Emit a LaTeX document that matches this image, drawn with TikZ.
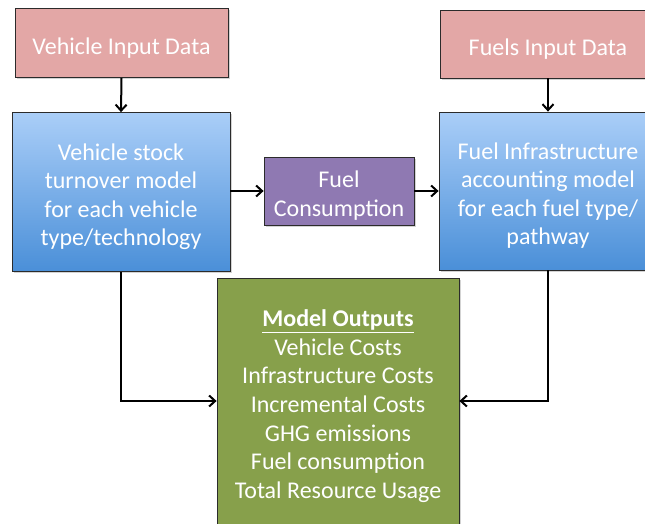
\documentclass[tikz,border=0pt]{standalone}
\usepackage{fontspec}
\setmainfont{Carlito}
\usetikzlibrary{arrows.meta,shadows}
\definecolor{pinkfill}{HTML}{E3A7A6}
\definecolor{bluetop}{HTML}{AACEF8}
\definecolor{bluebot}{HTML}{4A8FD8}
\definecolor{purplefill}{HTML}{8F79B2}
\definecolor{greenfill}{HTML}{87A04B}
\definecolor{edge}{HTML}{2B2B2B}
\newcommand\topstrut{\rule{0pt}{26pt}}
\tikzset{
  box/.style={draw=edge, line width=0.8pt, text=white, align=center,
    font=\fontsize{24}{28.6}\selectfont, inner sep=0pt,
    drop shadow={shadow xshift=1.5pt, shadow yshift=-1.5pt, opacity=0.35}},
  inputbox/.style={box, fill=pinkfill},
  modelbox/.style={box, top color=bluetop, bottom color=bluebot},
  consbox/.style={box, fill=purplefill},
  outbox/.style={box, fill=greenfill},
  conn/.style={line width=2pt, -{Straight Barb[length=6pt,width=11pt,line width=2pt]}}
}
\begin{document}
\begin{tikzpicture}[x=1pt,y=-1pt]
\useasboundingbox (0,0) rectangle (645,523);
\clip (0,0) rectangle (645,523);
\node[inputbox, minimum width=213pt, minimum height=69pt] (vin) at (121.5,43) {\topstrut Vehicle Input Data};
\node[inputbox, minimum width=216pt, minimum height=68pt] (fin) at (548,44) {\topstrut Fuels Input Data};
\node[modelbox, minimum width=218pt, minimum height=159pt] (vst) at (121,192) {\topstrut Vehicle stock\\turnover model\\for each vehicle\\type/technology};
\node[modelbox, minimum width=218pt, minimum height=158pt] (fia) at (548,191) {\topstrut Fuel Infrastructure\\accounting model\\for each fuel type/\\pathway};
\node[consbox, minimum width=150pt, minimum height=68pt] (fc) at (339,191) {\topstrut Fuel\\Consumption};
\node[outbox, minimum width=242pt, minimum height=252pt] (out) at (338,404) {\rule{0pt}{21pt}\underline{\textbf{Model Outputs}}\\Vehicle Costs\\Infrastructure Costs\\Incremental Costs\\GHG emissions\\Fuel consumption\\Total Resource Usage};
\draw[conn] (vin.south) -- (vst.north);
\draw[conn] (fin.south) -- (fia.north);
\draw[conn] (vst.east |- fc.west) -- (fc.west);
\draw[conn] (fc.east) -- (fia.west |- fc.east);
\coordinate (lk) at (121,401);
\coordinate (rk) at (548,401);
\draw[conn] (vst.south) -- (lk) -- (out.west |- lk);
\draw[conn] (fia.south) -- (rk) -- (out.east |- rk);
\end{tikzpicture}
\end{document}
